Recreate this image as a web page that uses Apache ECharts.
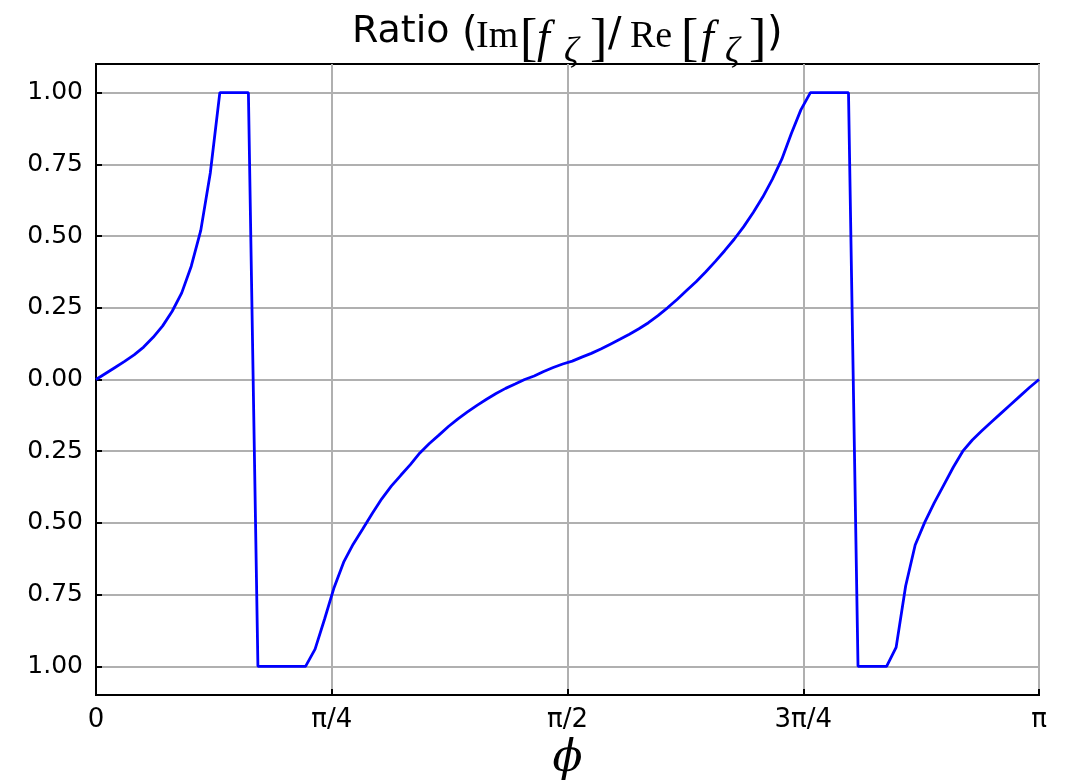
<!DOCTYPE html>
<html>
<head>
<meta charset="utf-8">
<script src="https://cdn.jsdelivr.net/npm/echarts@6/dist/echarts.min.js"></script>
<style>
  html, body { margin: 0; padding: 0; background: #ffffff; }
  #chart { width: 1072px; height: 781px; }
</style>
</head>
<body>
<div id="chart"></div>
<script>
// Sample grid: 100 samples of phi from 0 to pi
const N_SAMPLES = 100;
const phi = Array.from({ length: N_SAMPLES }, (_, i) => i * Math.PI / (N_SAMPLES - 1));

// Ratio Im/Re (clipped to [-1, 1])
const ratio = [
  0, 0.021, 0.042, 0.063, 0.086, 0.113, 0.147, 0.187, 0.238, 0.302,
  0.395, 0.52, 0.72, 1, 1, 1, 1, -1, -1, -1,
  -1, -1, -1, -0.94, -0.835, -0.725, -0.637, -0.574, -0.521, -0.467,
  -0.416, -0.372, -0.334, -0.297, -0.256, -0.223, -0.194, -0.164, -0.137, -0.113,
  -0.090, -0.069, -0.049, -0.031, -0.016, 0.0, 0.012, 0.028, 0.042, 0.054,
  0.064, 0.078, 0.091, 0.106, 0.123, 0.140, 0.158, 0.177, 0.198, 0.223,
  0.250, 0.279, 0.310, 0.341, 0.375, 0.411, 0.449, 0.489, 0.533, 0.582,
  0.636, 0.698, 0.768, 0.858, 0.94, 1, 1, 1, 1, 1,
  -1, -1, -1, -1, -0.934, -0.72, -0.577, -0.498, -0.430, -0.368,
  -0.306, -0.250, -0.211, -0.179, -0.148, -0.118, -0.088, -0.058, -0.028, 0
];

const xTickLabels = ['0', 'π/4', 'π/2', '3π/4', 'π'];
const yTicks = [-1, -0.75, -0.5, -0.25, 0, 0.25, 0.5, 0.75, 1];

const seriesData = phi.map((p, i) => [p, ratio[i]]);

const chart = echarts.init(document.getElementById('chart'), null, { renderer: 'canvas' });
const gridColor = '#b0b0b0';
const sans = 'DejaVu Sans';
const serif = 'Liberation Serif';

function tok(family, size, width, pad, italic) {
  return {
    fontFamily: family, fontSize: size, fontWeight: 'normal',
    fontStyle: italic ? 'italic' : 'normal',
    color: '#000', lineHeight: 44, width: width, align: 'left',
    verticalAlign: 'top', padding: [pad, 0, 0, 0]
  };
}

chart.setOption({
  animation: false,
  backgroundColor: '#ffffff',
  title: {
    text: '{ra|Ratio}{lp|(}{im|Im}{b1|[}{f1|f}{z1|ζ}{b2|]}{sl|/}{re|Re}{b3|[}{f2|f}{z2|ζ}{b4|]}{rp|)}',
    left: 347,
    top: 8,
    textStyle: {
      fontWeight: 'normal',
      rich: {
        ra: tok(sans, 38, 110, 0, false),
        lp: tok(sans, 40, 14, 2, false),
        im: tok(serif, 38, 44, 5, false),
        b1: tok(serif, 52, 17, 2, false),
        f1: tok(serif, 46, 27, 4, true),
        z1: tok(serif, 36, 26, 22, true),
        b2: tok(serif, 52, 18, 2, false),
        sl: tok(sans, 40, 22, 3, false),
        re: tok(serif, 38, 51, 5, false),
        b3: tok(serif, 52, 20, 2, false),
        f2: tok(serif, 46, 24, 4, true),
        z2: tok(serif, 36, 24, 22, true),
        b4: tok(serif, 52, 18, 2, false),
        rp: tok(sans, 40, 13, 2, false)
      }
    }
  },
  grid: {
    left: 96, right: 33, top: 64, bottom: 86,
    outerBoundsMode: 'none',
    show: true, borderColor: '#000', borderWidth: 2, backgroundColor: '#ffffff',
    containLabel: false
  },
  xAxis: {
    type: 'value',
    min: 0,
    max: Math.PI,
    interval: Math.PI / 4,
    name: 'ϕ',
    nameLocation: 'middle',
    nameGap: 38,
    nameTextStyle: { fontFamily: 'DejaVu Serif', fontStyle: 'italic', fontSize: 44, color: '#000' },
    axisLine: { show: true, onZero: false, lineStyle: { color: '#000', width: 2 } },
    axisTick: { show: true, inside: true, length: 6, lineStyle: { color: '#000', width: 2 } },
    axisLabel: {
      show: true, margin: 12, fontFamily: sans, fontSize: 26, color: '#000',
      formatter: function (v) { return xTickLabels[Math.round(v / (Math.PI / 4))]; }
    },
    splitLine: { show: true, lineStyle: { color: gridColor, width: 2 } }
  },
  yAxis: {
    type: 'value',
    min: -1.1,
    max: 1.1,
    axisLine: { show: true, onZero: false, lineStyle: { color: '#000', width: 2 } },
    axisTick: { show: true, inside: true, length: 6, customValues: yTicks, lineStyle: { color: '#000', width: 2 } },
    axisLabel: {
      show: true, margin: 13, fontFamily: sans, fontSize: 25, color: '#000',
      customValues: yTicks,
      formatter: function (v) { return Math.abs(v).toFixed(2); }
    },
    splitLine: { show: true, lineStyle: { color: gridColor, width: 2 } }
  },
  series: [{
    type: 'line',
    data: seriesData,
    showSymbol: false,
    lineStyle: { color: '#0000ff', width: 2.8 },
    clip: true,
    z: 5
  }]
});
</script>
</body>
</html>
